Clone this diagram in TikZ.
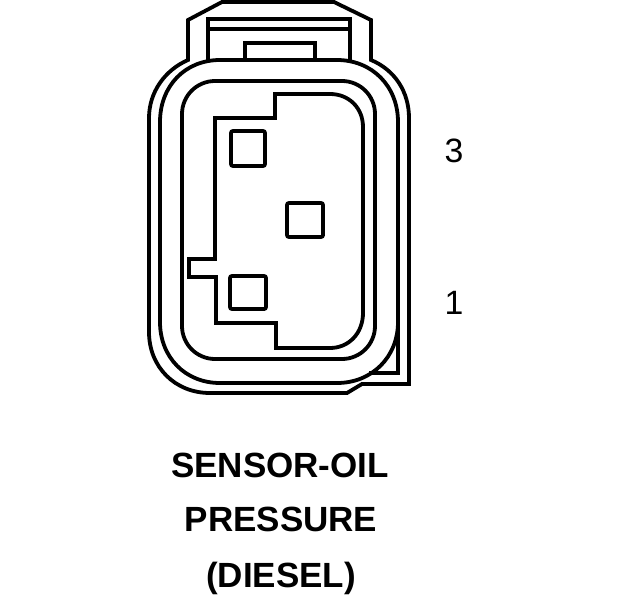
\documentclass[tikz,border=0pt]{standalone}
\usepackage{fontspec}
\setmainfont{Liberation Sans}
\tikzset{
  outline/.style={line width=0.038cm, line join=miter},
  pinbox/.style={line width=0.038cm, rounded corners=0.02cm},
  title/.style={font=\fontsize{9.95}{11}\selectfont\bfseries},
  pinnum/.style={font=\fontsize{9.6}{11}\selectfont}
}
\begin{document}
\begin{tikzpicture}[x=0.01cm, y=-0.01cm]
    \useasboundingbox (0,0) rectangle (624,600);

    % Boitier exterieur
    \draw[outline] (222,2) -- (334,2) -- (371,20) -- (371,60)
        .. controls (395,70) and (409,92) .. (409,118) -- (409,384) -- (362,384) -- (347,393) -- (210,393)
        .. controls (175,393) and (149,367) .. (149,332) -- (149,118)
        .. controls (149,92) and (165,70) .. (188,60) -- (188,20) -- cycle;

    % Verrou du haut
    \draw[outline] (208,62) -- (208,19) -- (350,19) -- (350,62);
    \draw[outline] (208,29) -- (350,29);
    \draw[outline] (245,60) -- (245,43) -- (315,43) -- (315,60);

    % Joint
    \draw[outline] (220,60) -- (337,60) .. controls (372,60) and (398,86) .. (398,122) -- (398,373) -- (369,373);
    \draw[outline] (398,322) .. controls (398,357) and (372,383) .. (337,383) -- (220,383)
        .. controls (185,383) and (160,357) .. (160,322) -- (160,122)
        .. controls (160,86) and (185,60) .. (220,60);

    % Cavite
    \draw[outline, rounded corners=0.33cm] (278,81) -- (375,81) -- (375,359) -- (182,359) -- (182,81) -- cycle;

    % Contour interieur
    \draw[outline] (215,118) -- (275,118) -- (275,94) -- (330,94)
        .. controls (349,94) and (363,108) .. (363,127) -- (363,313)
        .. controls (363,333) and (349,348) .. (330,348) -- (276,348) -- (276,323) -- (216,323)
        -- (216,277) -- (189,277) -- (189,259) -- (215,259) -- cycle;

    % Broches
    \draw[pinbox] (231,131) rectangle (265,166);
    \draw[pinbox] (287,203) rectangle (323,237);
    \draw[pinbox] (230,276) rectangle (266,309);

    % Numeros
    \node[pinnum] (pinthree) at (454,151) {3};
    \node[pinnum] (pinone) at (454,303) {1};

    % Titre
    \node[title] (sensorlabel) at (280,465) {SENSOR-OIL};
    \node[title] (pressurelabel) at (281,519) {PRESSURE};
    \node[title] (diesellabel) at (281,578) {(DIESEL)};
\end{tikzpicture}
\end{document}
